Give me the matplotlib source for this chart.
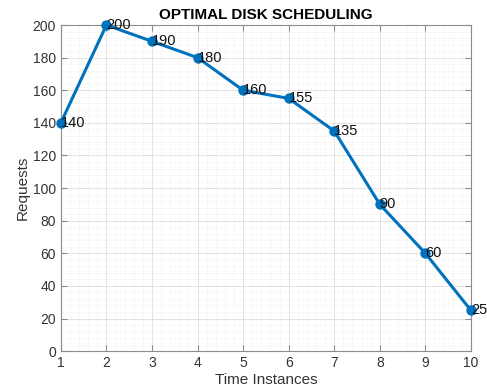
import matplotlib.pyplot as plt
from matplotlib.ticker import AutoMinorLocator

time_instances = [1, 2, 3, 4, 5, 6, 7, 8, 9, 10]
requests = [140, 200, 190, 180, 160, 155, 135, 90, 60, 25]

plt.rcParams['font.family'] = ['Liberation Sans', 'DejaVu Sans']

fig = plt.figure(figsize=(4.87, 3.91), dpi=100)
ax = fig.add_axes([0.125, 0.102, 0.842, 0.834])

ax.plot(time_instances, requests, color='#0072BD', linewidth=2.2,
        marker='o', markersize=6.5, zorder=3, clip_on=False)
for x, y in zip(time_instances, requests):
    ax.text(x, y, str(y), ha='left', va='center', fontsize=10.5, color='#111111', zorder=4)

ax.set_xlim(1, 10)
ax.set_ylim(0, 200)
ax.set_xticks(range(1, 11))
ax.set_yticks(range(0, 201, 20))
ax.xaxis.set_minor_locator(AutoMinorLocator(5))
ax.yaxis.set_minor_locator(AutoMinorLocator(5))
ax.grid(which='major', color='#dddddd', linewidth=0.6)
ax.grid(which='minor', color='#e6e6e6', linewidth=0.5, linestyle=':')
ax.set_axisbelow(True)

for s in ax.spines.values():
    s.set_color('#8c8c8c')
    s.set_linewidth(0.8)
ax.tick_params(which='both', direction='in', top=True, right=True,
               colors='#8c8c8c', labelcolor='#333333', labelsize=10)
ax.tick_params(which='minor', length=0)
ax.tick_params(which='major', length=4)

ax.set_xlabel('Time Instances', fontsize=11, color='#333333', labelpad=2)
ax.set_ylabel('Requests', fontsize=11, color='#333333', labelpad=2)
ax.set_title('OPTIMAL DISK SCHEDULING', fontsize=11, fontweight='bold', pad=4)

fig.savefig('out.png', dpi=100)
